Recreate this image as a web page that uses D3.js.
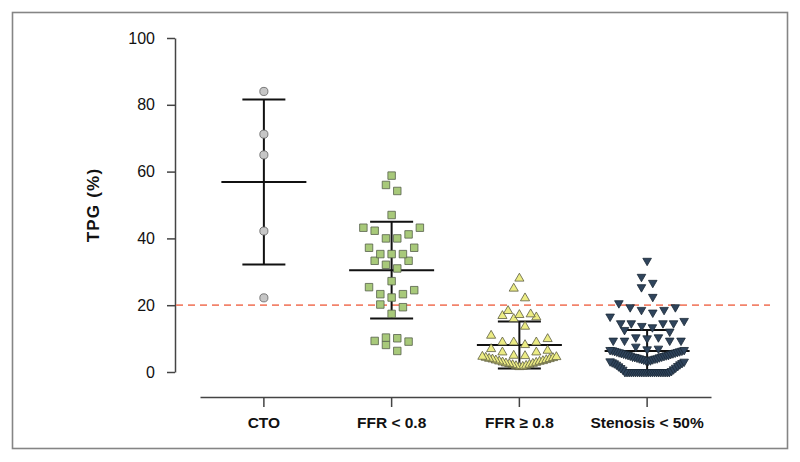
<!DOCTYPE html>
<html><head><meta charset="utf-8">
<script src="https://cdn.jsdelivr.net/npm/d3@7"></script>
<style>body{margin:0;background:#fff}</style>
</head><body><svg id="c" width="800" height="462"></svg>
<script>
const categories = ["CTO", "FFR < 0.8", "FFR \u2265 0.8", "Stenosis < 50%"];
const ctoValues = [84.0, 71.2, 65.0, 42.2, 22.2];
const ffrLowValues = [58.8, 56.0, 54.2, 47.0, 43.2, 42.3, 43.2, 40.0, 40.0, 41.2, 37.2, 37.2,
  35.3, 35.3, 35.3, 33.3, 33.3, 32.1, 31.0, 27.2, 24.5, 25.4, 23.3, 23.3, 22.3, 20.2, 19.4,
  17.4, 9.1, 10.1, 10.3, 8.1, 9.3, 6.3];
const ffrHighValues = [28.0, 25.0, 22.1, 18.3, 17.3, 17.1, 16.8, 16.4, 15.9, 13.6, 10.9, 9.9,
  8.9, 8.9, 8.9, 8.1, 6.9, 6.4, 5.9, 5.9, 4.9, 4.8,
  4.6, 4.5, 4.3, 4.2, 4.0, 3.9, 3.8, 3.6, 3.5, 3.3, 3.2, 3.1, 2.9, 2.8, 2.6, 2.5, 2.4, 2.2,
  2.1, 1.9, 1.8, 1.6, 1.5];
const stenosisValues = [33.3, 28.5, 26.7, 25.4, 22.5, 20.6, 19.4, 19.4, 18.6, 18.6, 17.8, 16.6,
  15.3, 14.6, 14.6, 14.6, 14.6, 13.8, 13.4, 12.6, 12.1, 10.4, 10.4, 10.1, 9.4, 9.4, 9.4, 9.4,
  7.6, 7.0, 6.8,
  6.6, 6.6, 6.5, 6.4, 6.3, 6.2, 6.1, 6.0, 5.9, 5.8, 5.7, 5.6, 5.5, 5.4, 5.3, 5.1, 5.1, 5.0,
  4.9, 4.8, 4.6, 4.6, 4.5, 4.4, 4.3, 4.1, 4.1, 4.0, 3.9, 3.8, 3.7, 3.5, 3.5, 3.4,
  3.2, 3.1, 2.9, 2.7, 2.6, 2.3, 2.2, 1.8, 1.7, 1.3, 1.2, 0.8, 0.7, 0.3,
  0, 0, 0, 0, 0, 0, 0, 0, 0, 0, 0, 0, 0, 0, 0, 0, 0, 0, 0, 0, 0, 0];
const groupMeans = [56.9, 30.5, 8.1, 6.3];
const groupSDs = [24.7, 14.45, 7.05, 6.3];
const yTicks = [0, 20, 40, 60, 80, 100];
const thresholdValue = 20;
const yTitle = "TPG (%)";

const groups = [ctoValues, ffrLowValues, ffrHighValues, stenosisValues];
const markerStyles = [
  {type: d3.symbolCircle, size: 52, fill: "#c6c6c6", stroke: "#606060", rot: 0},
  {type: d3.symbolSquare, size: 56, fill: "#a8c97a", stroke: "#55604a", rot: 0},
  {type: d3.symbolTriangle, size: 36, fill: "#ecec84", stroke: "#5c5c40", rot: 0},
  {type: d3.symbolTriangle, size: 32, fill: "#2f445c", stroke: "#1b2836", rot: 180}
];

const svg = d3.select("#c");
const font = "'Liberation Sans', Arial, Helvetica, sans-serif";

svg.append("rect").attr("x", 12.5).attr("y", 12.5).attr("width", 775).attr("height", 436)
  .attr("fill", "#fff").attr("stroke", "#858585").attr("stroke-width", 1.6);

const y = d3.scaleLinear().domain([0, 100]).range([372, 38]);
const x = d3.scaleBand().domain(categories).range([200, 711]);

// Y axis
const gy = svg.append("g").attr("transform", "translate(175,0)")
  .call(d3.axisLeft(y).tickValues(yTicks).tickSize(8).tickSizeOuter(0).tickPadding(12));
gy.selectAll("path,line").attr("stroke", "#444").attr("stroke-width", 1.5);
gy.selectAll("text").attr("font-family", font).attr("font-size", 16).attr("fill", "#111");

// X axis
const gx = svg.append("g").attr("transform", "translate(0,397)")
  .call(d3.axisBottom(x).tickSize(10).tickSizeOuter(0).tickPadding(10));
gx.selectAll("path,line").attr("stroke", "#444").attr("stroke-width", 1.5);
gx.selectAll("text").attr("font-family", font).attr("font-size", 15.5)
  .attr("font-weight", "bold").attr("fill", "#111");

svg.append("text").attr("transform", "translate(99,205) rotate(-90)")
  .attr("text-anchor", "middle").attr("font-family", font).attr("font-size", 17)
  .attr("font-weight", "bold").attr("letter-spacing", 1.2).attr("fill", "#111").text(yTitle);

// threshold line
svg.append("line").attr("x1", 176).attr("x2", 770)
  .attr("y1", y(thresholdValue)).attr("y2", y(thresholdValue))
  .attr("stroke", "#f2836b").attr("stroke-width", 1.8).attr("stroke-dasharray", "7,5");

// error bars
const eb = svg.append("g").attr("stroke", "#111").attr("stroke-width", 2);
categories.forEach((c, i) => {
  const cx = x(c) + x.bandwidth() / 2;
  const m = groupMeans[i], s = groupSDs[i];
  eb.append("line").attr("x1", cx).attr("x2", cx).attr("y1", y(m - s)).attr("y2", y(m + s));
  eb.append("line").attr("x1", cx - 42.5).attr("x2", cx + 42.5).attr("y1", y(m)).attr("y2", y(m));
  eb.append("line").attr("x1", cx - 21.5).attr("x2", cx + 21.5).attr("y1", y(m + s)).attr("y2", y(m + s));
  eb.append("line").attr("x1", cx - 21.5).attr("x2", cx + 21.5).attr("y1", y(m - s)).attr("y2", y(m - s));
});

// scatter layout: rows of nearby values spread horizontally
function layout(values, cx) {
  const rowPx = 11, spacing = 11.3, maxHalf = 37;
  const sorted = values.slice().sort((a, b) => a - b);
  const rows = [];
  let cur = null;
  sorted.forEach(v => {
    if (!cur || y(cur.start) - y(v) > rowPx) { cur = {start: v, vals: []}; rows.push(cur); }
    cur.vals.push(v);
  });
  const pts = [];
  rows.forEach(r => {
    const n = r.vals.length;
    const step = n > 1 ? Math.min(spacing, 2 * maxHalf / (n - 1)) : 0;
    const slots = d3.range(n).map(i => i - (n - 1) / 2)
      .sort((a, b) => Math.abs(a) - Math.abs(b) || b - a);
    r.vals.forEach((v, i) => pts.push({v, x: cx + slots[i] * step}));
  });
  return pts;
}

categories.forEach((c, i) => {
  const cx = x(c) + x.bandwidth() / 2;
  const st = markerStyles[i];
  const pts = layout(groups[i], cx);
  svg.append("g").selectAll("path").data(pts).join("path")
    .attr("d", d3.symbol().type(st.type).size(st.size))
    .attr("transform", d => `translate(${d.x},${y(d.v)}) rotate(${st.rot})`)
    .attr("fill", st.fill).attr("stroke", st.stroke).attr("stroke-width", 0.8);
});
</script></body></html>
